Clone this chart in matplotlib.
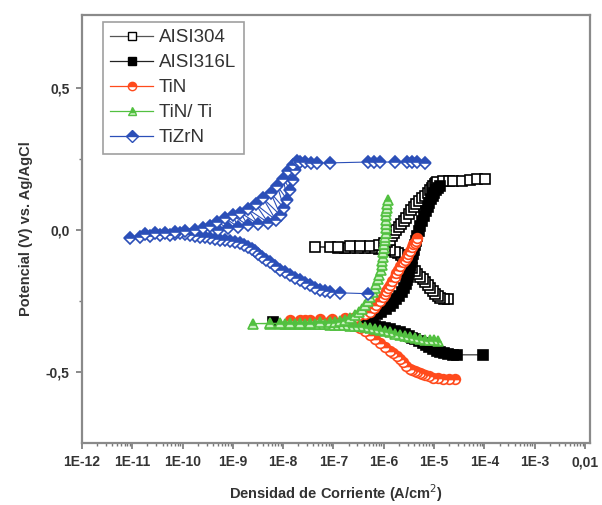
import matplotlib
matplotlib.use("Agg")
import matplotlib.pyplot as plt
import numpy as np
from matplotlib.ticker import FixedLocator, NullFormatter
from matplotlib.lines import Line2D

plt.rcParams['font.family'] = ['Liberation Sans', 'DejaVu Sans']

# ---- data: log10(current density, A/cm2) and potential (V vs Ag/AgCl) ----
aisi304_logi = [-4.72, -4.80, -4.88, -4.93, -4.98, -5.03, -5.08, -5.13, -5.18, -5.23,
                -5.28, -5.33, -5.38, -5.43, -5.48, -5.52, -5.56, -5.61, -5.66, -5.72,
                -5.78, -5.88, -5.98, -6.10, -6.23, -6.37, -6.51, -6.67, -6.77, -6.91,
                -7.07, -7.37,
                -6.91, -6.67, -6.47, -6.27, -6.10, -6.00, -5.94, -5.88, -5.84, -5.80,
                -5.75, -5.70, -5.65, -5.60, -5.55, -5.50, -5.45, -5.40, -5.35, -5.30,
                -5.24, -5.18, -5.13, -5.08, -5.05, -5.02, -4.99, -4.96, -4.94, -4.82,
                -4.70, -4.62, -4.45, -4.29, -4.15, -3.99]
aisi304_e = [-0.245, -0.243, -0.240, -0.233, -0.225, -0.215, -0.205, -0.195, -0.185, -0.175,
             -0.165, -0.155, -0.145, -0.135, -0.125, -0.115, -0.105, -0.097, -0.090, -0.083,
             -0.078, -0.073, -0.070, -0.068, -0.066, -0.065, -0.064, -0.064, -0.063, -0.063,
             -0.062, -0.060,
             -0.060, -0.059, -0.058, -0.056, -0.053, -0.048, -0.042, -0.035, -0.022, -0.010,
             0.000, 0.010, 0.020, 0.030, 0.042, 0.055, 0.068, 0.080, 0.090, 0.100,
             0.110, 0.120, 0.130, 0.140, 0.148, 0.155, 0.160, 0.165, 0.168, 0.170,
             0.170, 0.172, 0.172, 0.175, 0.178, 0.178]

aisi316l_logi = [-4.03, -4.54, -4.62, -4.72, -4.80, -4.88, -4.95, -5.02, -5.10, -5.16,
                 -5.22, -5.30, -5.38, -5.44, -5.50, -5.58, -5.68, -5.78, -5.88, -5.98,
                 -6.08, -6.18, -6.27, -6.37, -6.47, -6.57, -8.20,
                 -6.57, -6.47, -6.37, -6.29, -6.21, -6.13, -6.05, -5.96, -5.88, -5.81,
                 -5.75, -5.69, -5.64, -5.60, -5.56, -5.54, -5.52, -5.50, -5.48, -5.46,
                 -5.44, -5.42, -5.40, -5.38, -5.36, -5.33, -5.30, -5.27, -5.24, -5.20,
                 -5.17, -5.13, -5.10, -5.06, -5.03, -5.00, -4.96, -4.92, -4.88]
aisi316l_e = [-0.440, -0.440, -0.439, -0.437, -0.434, -0.430, -0.425, -0.418, -0.411, -0.405,
              -0.400, -0.392, -0.385, -0.380, -0.374, -0.367, -0.360, -0.355, -0.350, -0.346,
              -0.342, -0.339, -0.337, -0.335, -0.333, -0.330, -0.326,
              -0.325, -0.320, -0.315, -0.310, -0.305, -0.298, -0.290, -0.280, -0.270, -0.258,
              -0.245, -0.232, -0.220, -0.205, -0.190, -0.178, -0.165, -0.148, -0.130, -0.115,
              -0.100, -0.085, -0.070, -0.055, -0.040, -0.022, -0.005, 0.012, 0.030, 0.048,
              0.065, 0.080, 0.095, 0.108, 0.120, 0.130, 0.140, 0.146, 0.152]

tin_logi = [-4.58, -4.70, -4.82, -4.92, -5.02, -5.10, -5.18, -5.24, -5.28, -5.34,
            -5.38, -5.43, -5.48, -5.55, -5.62, -5.68, -5.74, -5.81, -5.88, -5.98,
            -6.08, -6.17, -6.27, -6.37, -6.47, -6.55, -6.63, -6.75, -6.87, -7.07,
            -7.27, -7.47, -7.67, -7.86,
            -7.57, -7.27, -7.03, -6.77, -6.61, -6.55, -6.50, -6.38, -6.27, -6.20,
            -6.15, -6.08, -6.02, -5.98, -5.95, -5.91, -5.88, -5.83, -5.78, -5.75,
            -5.72, -5.67, -5.62, -5.58, -5.54, -5.51, -5.48, -5.44, -5.41, -5.38,
            -5.36, -5.34]
tin_e = [-0.526, -0.526, -0.526, -0.523, -0.520, -0.516, -0.512, -0.508, -0.505, -0.502,
         -0.498, -0.494, -0.490, -0.478, -0.465, -0.455, -0.445, -0.435, -0.425, -0.412,
         -0.400, -0.385, -0.370, -0.357, -0.345, -0.340, -0.335, -0.331, -0.328, -0.322,
         -0.320, -0.318, -0.318, -0.318,
         -0.316, -0.315, -0.313, -0.312, -0.312, -0.306, -0.300, -0.295, -0.288, -0.277,
         -0.265, -0.250, -0.235, -0.225, -0.215, -0.205, -0.195, -0.180, -0.165, -0.152,
         -0.140, -0.127, -0.115, -0.105, -0.095, -0.085, -0.075, -0.060, -0.052, -0.045,
         -0.038, -0.030]

tinti_logi = [-4.92, -5.00, -5.08, -5.18, -5.28, -5.38, -5.48, -5.58, -5.68, -5.78,
              -5.88, -5.98, -6.08, -6.17, -6.27, -6.37, -6.47, -6.57, -6.67, -6.77,
              -6.87, -6.97, -7.07, -7.17, -7.27, -7.37, -7.47, -7.57, -7.67, -7.77,
              -7.86, -7.96, -8.06, -8.26, -8.60,
              -8.26, -8.06, -7.86, -7.67, -7.47, -7.27, -7.07, -6.97, -6.87, -6.77,
              -6.67, -6.58, -6.50, -6.44, -6.38, -6.32, -6.27, -6.22, -6.18, -6.15,
              -6.12, -6.09, -6.06, -6.04, -6.03, -6.02, -6.01, -6.00, -5.99, -5.98,
              -5.97, -5.96, -5.96, -5.95, -5.95, -5.95, -5.95, -5.94, -5.94, -5.92]
tinti_e = [-0.390, -0.389, -0.388, -0.387, -0.385, -0.382, -0.378, -0.374, -0.370, -0.365,
           -0.360, -0.356, -0.352, -0.348, -0.345, -0.342, -0.340, -0.338, -0.337, -0.336,
           -0.335, -0.334, -0.334, -0.333, -0.333, -0.333, -0.333, -0.332, -0.332, -0.332,
           -0.332, -0.331, -0.331, -0.331, -0.330,
           -0.329, -0.329, -0.328, -0.328, -0.327, -0.326, -0.325, -0.323, -0.320, -0.316,
           -0.310, -0.300, -0.290, -0.278, -0.265, -0.250, -0.235, -0.220, -0.205, -0.190,
           -0.175, -0.158, -0.140, -0.125, -0.110, -0.095, -0.080, -0.065, -0.050, -0.037,
           -0.025, -0.010, 0.005, 0.020, 0.035, 0.050, 0.065, 0.078, 0.090, 0.105]

tizrn_logi = [-6.31, -6.87, -7.07, -7.17, -7.27, -7.37, -7.47, -7.57, -7.67, -7.77,
              -7.86, -7.96, -8.06, -8.16, -8.26, -8.34, -8.42, -8.50, -8.56, -8.63,
              -8.70, -8.78, -8.86, -8.96, -9.06, -9.16, -9.26, -9.36, -9.45, -9.55,
              -9.65, -9.75, -9.85, -9.95, -10.05, -10.15, -10.25, -10.45, -10.65, -10.85,
              -11.05,
              -10.75, -10.55, -10.35, -10.15, -9.95, -9.75, -9.60, -9.45, -9.30, -9.32,
              -9.10, -9.15, -8.90, -9.00, -8.70, -8.85, -8.50, -8.70, -8.30, -8.55,
              -8.15, -8.40, -8.05, -8.25, -7.98, -8.12, -7.92, -8.00, -7.86, -7.90,
              -7.80, -7.80, -7.76, -7.73,
              -7.67, -7.57, -7.45, -7.33, -7.07, -6.31, -6.20, -6.08, -5.78, -5.54,
              -5.44, -5.34, -5.18]
tizrn_e = [-0.225, -0.222, -0.220, -0.217, -0.212, -0.204, -0.195, -0.186, -0.178, -0.169,
           -0.160, -0.150, -0.140, -0.128, -0.115, -0.105, -0.095, -0.085, -0.075, -0.067,
           -0.060, -0.054, -0.048, -0.044, -0.040, -0.037, -0.035, -0.032, -0.030, -0.027,
           -0.025, -0.022, -0.020, -0.015, -0.012, -0.016, -0.020, -0.018, -0.022, -0.025,
           -0.028,
           -0.015, -0.012, -0.010, -0.008, -0.004, 0.000, 0.006, 0.012, 0.000, 0.028,
           0.005, 0.040, 0.010, 0.050, 0.015, 0.060, 0.020, 0.072, 0.025, 0.090,
           0.035, 0.110, 0.050, 0.130, 0.075, 0.155, 0.105, 0.180, 0.140, 0.205,
           0.175, 0.228, 0.210, 0.240,
           0.238, 0.238, 0.236, 0.235, 0.235, 0.238, 0.238, 0.238, 0.238, 0.238,
           0.238, 0.237, 0.235]

x_tick_vals = [1e-12, 1e-11, 1e-10, 1e-9, 1e-8, 1e-7, 1e-6, 1e-5, 1e-4, 1e-3, 1e-2]
x_tick_labels = ['1E-12', '1E-11', '1E-10', '1E-9', '1E-8', '1E-7', '1E-6', '1E-5',
                 '1E-4', '1E-3', '0,01']
y_tick_vals = [-0.5, 0.0, 0.5]
y_tick_labels = ['-0,5', '0,0', '0,5']

series = [
    ('AISI304', aisi304_logi, aisi304_e, dict(marker='s', color='#555555', mfc='white',
                                                mec='black')),
    ('AISI316L', aisi316l_logi, aisi316l_e, dict(marker='s', color='#222222', mfc='black',
                                                  mec='black')),
    ('TiN', tin_logi, tin_e, dict(marker='o', color='#ff4a1c', mfc='#ff4a1c', mec='#ff4a1c',
                                  fillstyle='top', markerfacecoloralt='white')),
    ('TiN/ Ti', tinti_logi, tinti_e, dict(marker='^', color='#52c040', mfc='#52c040',
                                          mec='#52c040', fillstyle='top',
                                          markerfacecoloralt='#c8f0c0')),
    ('TiZrN', tizrn_logi, tizrn_e, dict(marker='D', color='#2b4fb8', mfc='#2b4fb8',
                                        mec='#2b4fb8', fillstyle='top',
                                        markerfacecoloralt='white')),
]

fig = plt.figure(figsize=(6.02, 5.05), dpi=100)
ax = fig.add_axes([82/602, 1-443/505, (590-82)/602, (443-15)/505])

handles = []
for name, lg, e, style in series:
    ms = 6.5 if style['marker'] == 'D' else 7.0
    ax.plot(10**np.array(lg), e, lw=0.8, mew=1.2, ms=ms, **style)
    handles.append(Line2D([], [], lw=0.9, mew=1.0, ms=6, label=name, **style))

ax.set_xscale('log')
ax.set_xlim(1e-12, 10**-1.9)
ax.set_ylim(-0.75, 0.755)
ax.xaxis.set_major_locator(FixedLocator(x_tick_vals))
ax.set_xticklabels(x_tick_labels)
ax.xaxis.set_minor_locator(FixedLocator([m*10.0**k for k in range(-12, -2) for m in range(2, 10)]))
ax.xaxis.set_minor_formatter(NullFormatter())
ax.set_yticks(y_tick_vals)
ax.set_yticklabels(y_tick_labels)
ax.set_yticks([-0.25, 0.25], minor=True)

for sp in ax.spines.values():
    sp.set_color('#8a8a8a')
    sp.set_linewidth(1.6)
ax.tick_params(axis='both', which='major', direction='out', length=4, width=1.2,
               color='#777777', labelsize=10, labelcolor='#333333', pad=5)
ax.tick_params(axis='both', which='minor', direction='out', length=2.5, width=1.0,
               color='#777777')
for lab in ax.get_xticklabels() + ax.get_yticklabels():
    lab.set_fontweight('bold')

ax.set_xlabel('Densidad de Corriente (A/cm$^2$)', fontsize=10.5, fontweight='bold',
              color='#333333', labelpad=9)
ax.set_ylabel('Potencial (V) vs. Ag/AgCl', fontsize=10.5, fontweight='bold',
              color='#333333', labelpad=9)

leg = ax.legend(handles=handles, loc='upper left', bbox_to_anchor=(0.041, 0.984),
                borderaxespad=0, fontsize=13.5, frameon=True, fancybox=False,
                handlelength=2.3, handletextpad=0.3, labelspacing=0.42, borderpad=0.4,
                labelcolor='#333333')
leg.get_frame().set_edgecolor('#888888')
leg.get_frame().set_linewidth(1.2)

fig.savefig('out.png', dpi=100)
